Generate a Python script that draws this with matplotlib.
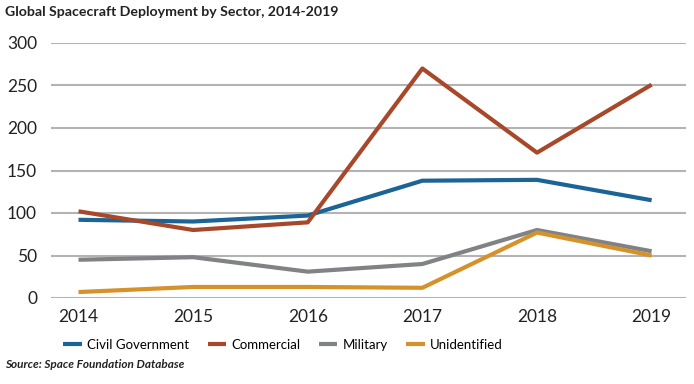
import matplotlib
matplotlib.use("Agg")
import matplotlib.pyplot as plt

years = [2014, 2015, 2016, 2017, 2018, 2019]
civil = [92, 90, 97, 138, 139, 115]
commercial = [102, 80, 89, 270, 171, 251]
military = [45, 48, 31, 40, 80, 55]
unidentified = [7, 13, 13, 12, 77, 50]
series_names = ["Civil Government", "Commercial", "Military", "Unidentified"]
colors = ["#1b6495", "#a8482b", "#808285", "#d5922b"]
yticks = [0, 50, 100, 150, 200, 250, 300]

plt.rcParams['font.family'] = ['Lato', 'DejaVu Sans']

fig = plt.figure(figsize=(6.94, 3.84), dpi=100)
ax = fig.add_axes([51/694, 1-298/384, 635/694, 255/384])

for vals, name, c in zip([civil, commercial, military, unidentified], series_names, colors):
    ax.plot(years, vals, color=c, lw=3, label=name, solid_capstyle='butt', zorder=3)

ax.set_ylim(0, 300)
ax.set_xlim(2013.76, 2019.30)
ax.set_yticks(yticks)
ax.set_xticks(years)
ax.set_xticklabels([str(y) for y in years])
ax.yaxis.grid(True, color="#b3b3b3", lw=1.5, zorder=0)
ax.set_axisbelow(True)
for s in ax.spines.values():
    s.set_visible(False)
ax.tick_params(axis='both', length=0, labelsize=12.5, colors="#222222")
ax.tick_params(axis='y', pad=10)
ax.tick_params(axis='x', pad=8)

fig.text(5/694, 1-12/384, "Global Spacecraft Deployment by Sector, 2014-2019",
         fontsize=10.2, fontweight='bold', va='center', ha='left', color="#222222")
fig.text(5/694, 1-364/384, "Source: Space Foundation Database",
         fontsize=8.5, fontweight='bold', fontstyle='italic', va='center', ha='left', color="#222222")

fig.legend(loc='center', bbox_to_anchor=(283/694, 1-345/384), ncol=4, frameon=False,
           fontsize=9.5, handlelength=1.4, columnspacing=1.4, handletextpad=0.4)

fig.savefig("out.png", dpi=100)
